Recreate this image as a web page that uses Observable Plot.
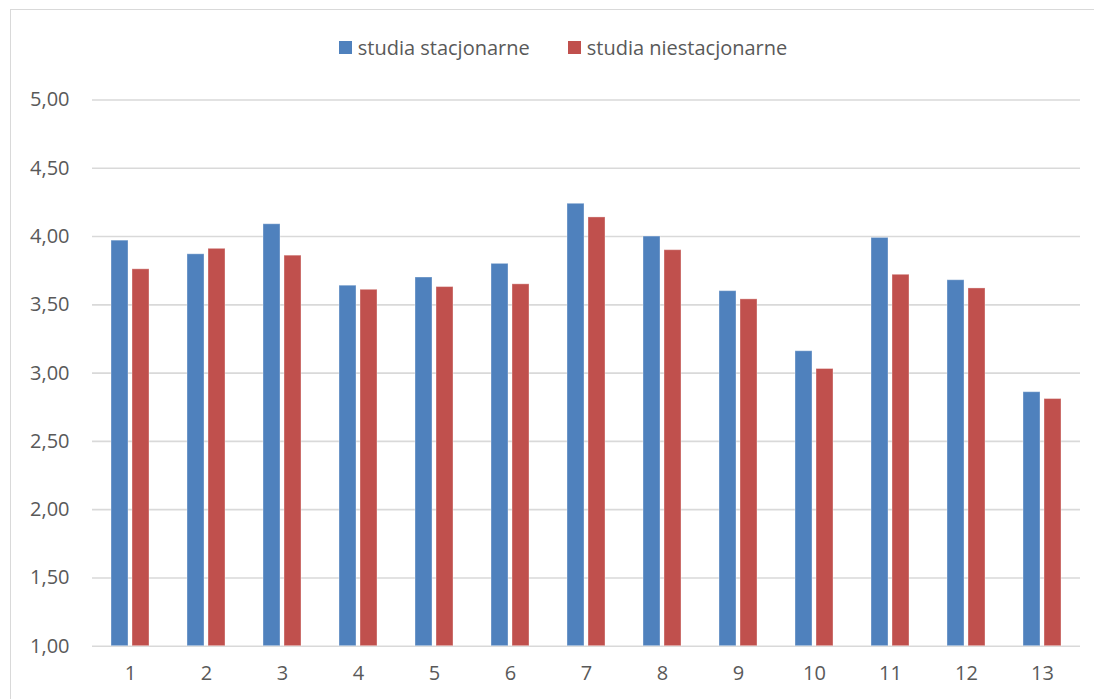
<!DOCTYPE html>
<html>
<head>
<meta charset="utf-8">
<script src="https://cdn.jsdelivr.net/npm/d3@7"></script>
<script src="https://cdn.jsdelivr.net/npm/@observablehq/plot@0.6"></script>
<style>
  html, body { margin: 0; padding: 0; background: #fff; }
  #frame { position: absolute; left: 10px; top: 9px; width: 1100px; height: 700px; border: 1px solid #d9d9d9; box-sizing: border-box; }
  #chart { position: absolute; left: 0; top: 0; }
  #chart svg text { font-size: 20px !important; font-family: "Open Sans", sans-serif !important; fill: #595959; }
  #legend { position: absolute; left: 0; top: 31px; width: 1126px; display: flex; justify-content: center; }
  .lg-swatches { font-family: "Open Sans", sans-serif; font-size: 20px !important; color: #595959; }
  .lg-swatch { margin-right: 38px !important; }
  .lg-swatch:last-child { margin-right: 0 !important; }
  .lg-swatch svg { margin-right: 6px !important; }
</style>
</head>
<body>
<div id="frame"></div>
<div id="chart"></div>
<div id="legend"></div>
<script>
const categories = ["1","2","3","4","5","6","7","8","9","10","11","12","13"];
const seriesNames = ["studia stacjonarne", "studia niestacjonarne"];
const stacjonarne = [3.97, 3.87, 4.09, 3.64, 3.70, 3.80, 4.24, 4.00, 3.60, 3.16, 3.99, 3.68, 2.86];
const niestacjonarne = [3.76, 3.91, 3.86, 3.61, 3.63, 3.65, 4.14, 3.90, 3.54, 3.03, 3.72, 3.62, 2.81];
const yTicks = [1, 1.5, 2, 2.5, 3, 3.5, 4, 4.5, 5];
const colors = ["#4F81BD", "#C0504D"];

const data = [];
categories.forEach((c, i) => {
  data.push({cat: c, series: seriesNames[0], value: stacjonarne[i]});
  data.push({cat: c, series: seriesNames[1], value: niestacjonarne[i]});
});
const fmt = v => v.toFixed(2).replace(".", ",");

const chart = Plot.plot({
  width: 1094,
  height: 699,
  marginLeft: 88,
  marginRight: 11,
  marginTop: 99.5,
  marginBottom: 53.3,
  style: {fontFamily: "'Open Sans', sans-serif", fontSize: "20px", color: "#595959", background: "transparent"},
  fx: {domain: categories, padding: 0, label: null, axis: "bottom", tickSize: 0, tickPadding: 20},
  x: {domain: seriesNames, paddingInner: 0.2, paddingOuter: 0.9, axis: null},
  y: {domain: [1, 5], ticks: yTicks, tickFormat: fmt, tickSize: 0, tickPadding: 23, label: null},
  color: {domain: seriesNames, range: colors},
  marks: [
    Plot.ruleY(yTicks, {stroke: "#d9d9d9", strokeWidth: 1.6}),
    Plot.barY(data, {fx: "cat", x: "series", y1: 1, y2: "value", fill: "series", stroke: "#ffffff", strokeOpacity: 0.35, strokeWidth: 1})
  ]
});
document.getElementById("chart").appendChild(chart);

const lg = Plot.legend({
  color: {domain: seriesNames, range: colors},
  legend: "swatches",
  swatchSize: 13,
  className: "lg"
});
document.getElementById("legend").appendChild(lg);
</script>
</body>
</html>
